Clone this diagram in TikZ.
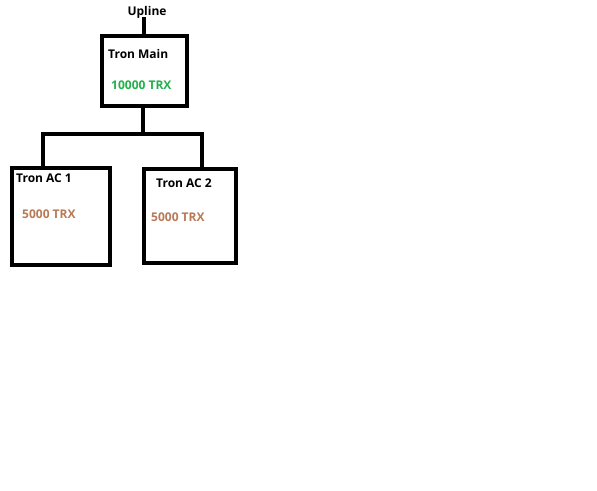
\documentclass[tikz,border=0pt]{standalone}
\usepackage{fontspec}
\setmainfont{Open Sans}
\definecolor{trxgreen}{RGB}{34,177,76}
\definecolor{trxbrown}{RGB}{185,122,87}
\begin{document}
\begin{tikzpicture}[x=1pt,y=-1pt,
  boxst/.style={draw=black,line width=4pt,inner sep=0pt},
  wire/.style={draw=black,line width=4pt},
  lbl/.style={font=\bfseries\fontsize{12}{14}\selectfont,inner sep=0pt,anchor=west},
  amt/.style={font=\bfseries\fontsize{12}{14}\selectfont,inner sep=0pt,anchor=west}]
\useasboundingbox[fill=white] (0,0) rectangle (597,490);
% boxes
\node[boxst,minimum width=85pt,minimum height=70pt] (main) at (144.5,71) {};
\node[boxst,minimum width=98pt,minimum height=97pt] (ac1) at (61,216.5) {};
\node[boxst,minimum width=92pt,minimum height=94pt] (ac2) at (189.5,216) {};
% texts
\node[inner sep=0pt,font=\bfseries\fontsize{12}{14}\selectfont] (up) at (147,12) {Upline};
\node[lbl] (tm) at (108,54) {Tron Main};
\node[amt,text=trxgreen] (tmv) at (111,85) {10000 TRX};
\node[lbl] (t1) at (16,178) {Tron AC 1};
\node[amt,text=trxbrown] (t1v) at (22,214) {5000 TRX};
\node[lbl] (t2) at (156,183) {Tron AC 2};
\node[amt,text=trxbrown] (t2v) at (151,217) {5000 TRX};
% connectors
\coordinate (upend) at (144,17);
\coordinate (j) at (143,134);
\coordinate (jl) at (43,134);
\coordinate (jr) at (202,134);
\draw[wire] (upend) -- (upend |- main.north);
\draw[wire] (main.south -| j) -- (j);
\draw[wire,line join=miter] (jl |- ac1.north) -- (jl) -- (jr) -- (jr |- ac2.north);
\end{tikzpicture}
\end{document}
